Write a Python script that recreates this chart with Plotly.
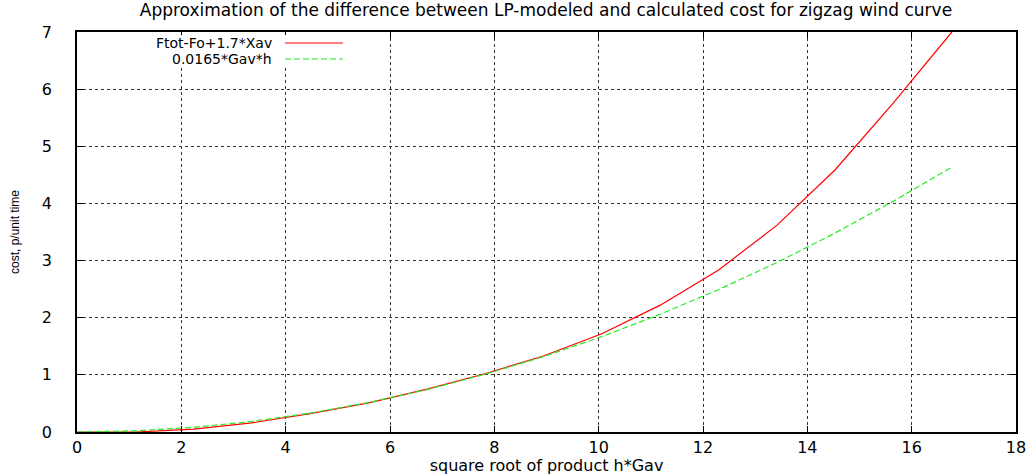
import plotly.graph_objects as go

# sqrt(h*Gav) sample points
x_vals = [0.0, 1.12, 2.24, 3.35, 4.47, 5.59, 6.71, 7.82, 8.94, 10.06,
          11.18, 12.30, 13.42, 14.53, 15.65, 16.77]
# Ftot-Fo+1.7*Xav
red_vals = [0.0, 0.0, 0.05, 0.16, 0.32, 0.51, 0.75, 1.02, 1.33, 1.72,
            2.22, 2.835, 3.62, 4.585, 5.76, 7.0]
# 0.0165*Gav*h
green_vals = [0.0, 0.021, 0.082, 0.185, 0.330, 0.515, 0.742, 1.010, 1.319, 1.669,
              2.061, 2.493, 2.967, 3.482, 4.039, 4.636]

names = ["Ftot-Fo+1.7*Xav", "0.0165*Gav*h"]
colors = ["#ff0000", "#22ee22"]
dashes = ["solid", "6px,3px"]

title = "Approximation of the difference between LP-modeled and calculated cost for zigzag wind curve"
x_title = "square root of product h*Gav"
y_title = "cost, p/unit time"
x_ticks = [0, 2, 4, 6, 8, 10, 12, 14, 16, 18]
y_ticks = [0, 1, 2, 3, 4, 5, 6, 7]

L, R, T, B = 77, 18, 32, 43
W, H = 1034, 475
PW, PH = W - L - R, H - T - B


def px_x(p):
    return (p - L) / PW


def px_y(p):
    return (H - B - p) / PH


fig = go.Figure()
for name, ys, c, d in zip(names, [red_vals, green_vals], colors, dashes):
    fig.add_trace(go.Scatter(x=x_vals, y=ys, mode="lines", name=name,
                             line=dict(color=c, width=1.2, dash=d),
                             showlegend=False))

font = "DejaVu Sans, Liberation Sans, Arial, sans-serif"

# gnuplot-like key: white box, right-aligned text followed by line sample
fig.add_shape(type="rect", xref="paper", yref="paper",
              x0=px_x(112), x1=px_x(352), y0=px_y(67), y1=px_y(35),
              fillcolor="white", line=dict(width=0), layer="above")
key_y = [43, 59]
for name, c, d, ky in zip(names, colors, dashes, key_y):
    fig.add_annotation(x=px_x(274), y=px_y(ky), xref="paper", yref="paper",
                       text=name, showarrow=False, xanchor="right",
                       yanchor="middle", font=dict(family=font, size=14, color="black"))
    fig.add_shape(type="line", xref="paper", yref="paper",
                  x0=px_x(285), x1=px_x(343), y0=px_y(ky), y1=px_y(ky),
                  line=dict(color=c, width=1.2, dash=d), layer="above")

axis_common = dict(
    showline=True, linecolor="black", linewidth=1.5, mirror="ticks",
    ticks="inside", ticklen=6, tickcolor="black", tickwidth=1,
    showgrid=True, gridcolor="#333333", griddash="dot", gridwidth=1,
    zeroline=False, automargin=False,
    tickfont=dict(family=font, size=16, color="black"),
)

fig.update_xaxes(range=[0, 18], tickvals=x_ticks, **axis_common,
                 title=dict(text=x_title, standoff=3,
                            font=dict(family=font, size=16, color="black")))
fig.update_yaxes(range=[0, 7], tickvals=y_ticks, **axis_common,
                 ticklabelstandoff=20,
                 title=dict(text=y_title, standoff=20,
                            font=dict(family="Liberation Sans Narrow, Liberation Sans, Arial", size=12, color="black")))

fig.update_layout(
    width=W, height=H,
    margin=dict(l=L, r=R, t=T, b=B),
    paper_bgcolor="white", plot_bgcolor="white",
    title=dict(text=title, x=0.528, xanchor="center", y=0.992, yanchor="top",
               font=dict(family=font, size=17, color="black")),
)

fig.write_html("out.html", config={"displayModeBar": False},
               post_script="document.body.style.margin='0';document.body.style.padding='0';")
